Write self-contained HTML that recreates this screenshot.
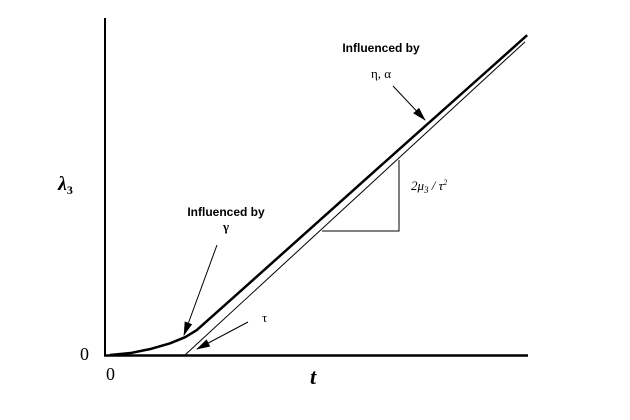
<!DOCTYPE html>
<html><head><meta charset="utf-8"><style>
html,body{margin:0;padding:0;background:#fff;}
svg{display:block;}
.sans{font-family:"Liberation Sans",sans-serif;font-weight:bold;font-size:12px;}
.serif{font-family:"Liberation Serif",serif;}
</style></head><body>
<svg id="chart" width="630" height="420" viewBox="0 0 630 420" xmlns="http://www.w3.org/2000/svg">
<defs><marker id="ah" viewBox="0 0 14 10" refX="13" refY="5" markerWidth="14" markerHeight="10" orient="auto" markerUnits="userSpaceOnUse"><path d="M0,1 L14,5 L0,9 z" fill="#000"/></marker></defs>
<line x1="105" y1="18" x2="105" y2="356" stroke="#000" stroke-width="2"/>
<line x1="104" y1="355.5" x2="528" y2="355.5" stroke="#000" stroke-width="2.5"/>
<g id="series"></g>
<polyline points="399,160 399,231 322,231" fill="none" stroke="#000" stroke-width="1"/>
<text class="serif" x="411" y="190" font-size="13" font-style="italic">2μ<tspan font-size="9" dy="3">3</tspan><tspan dy="-3"> / τ</tspan><tspan font-size="8" dy="-5">2</tspan></text>
<text class="sans" x="381" y="52" text-anchor="middle">Influenced by</text>
<text class="serif" x="381" y="78" text-anchor="middle" font-size="13">η, α</text>
<line x1="393" y1="86" x2="425" y2="120" stroke="#000" stroke-width="1" marker-end="url(#ah)"/>
<text class="sans" x="226" y="216" text-anchor="middle">Influenced by</text>
<text class="serif" x="226" y="231" text-anchor="middle" font-size="13" font-weight="bold">γ</text>
<line x1="217" y1="245" x2="184" y2="335" stroke="#000" stroke-width="1" marker-end="url(#ah)"/>
<text class="serif" x="262" y="322" font-size="13">τ</text>
<line x1="248" y1="322" x2="197" y2="349" stroke="#000" stroke-width="1" marker-end="url(#ah)"/>
<text class="serif" x="58" y="190" font-size="20" font-weight="bold" font-style="italic">λ<tspan font-size="12" dy="4" font-style="normal">3</tspan></text>
<text class="serif" x="80" y="360" font-size="18">0</text>
<text class="serif" x="106" y="380" font-size="18">0</text>
<text class="serif" x="310" y="384" font-size="22" font-weight="bold" font-style="italic">t</text>
</svg>
<script>
// thick response curve (t 0..100, lambda 0..100)
const curveT = [1.2, 6, 10.6, 15.4, 19, 21.7, 30, 50, 70, 90, 99.8];
const curveL = [0, 0.5, 1.5, 3.0, 4.6, 6.4, 14.4, 33.8, 53.2, 72.5, 82];
// thin asymptote
const asymT = [18.9, 99.3];
const asymL = [0, 80.3];
const xs = t => 105 + t * 4.23;
const ys = l => 355 - l * 3.9;
const g = document.getElementById('series');
const ns = 'http://www.w3.org/2000/svg';
const p1 = document.createElementNS(ns, 'polyline');
p1.setAttribute('points', curveT.map((t, i) => xs(t) + ',' + ys(curveL[i])).join(' '));
p1.setAttribute('fill', 'none'); p1.setAttribute('stroke', '#000'); p1.setAttribute('stroke-width', '2.5');
p1.setAttribute('stroke-linejoin', 'round');


g.appendChild(p1);
const p2 = document.createElementNS(ns, 'polyline');
p2.setAttribute('points', asymT.map((t, i) => xs(t) + ',' + ys(asymL[i])).join(' '));
p2.setAttribute('fill', 'none'); p2.setAttribute('stroke', '#000'); p2.setAttribute('stroke-width', '1');


g.appendChild(p2);
</script>
</body></html>
